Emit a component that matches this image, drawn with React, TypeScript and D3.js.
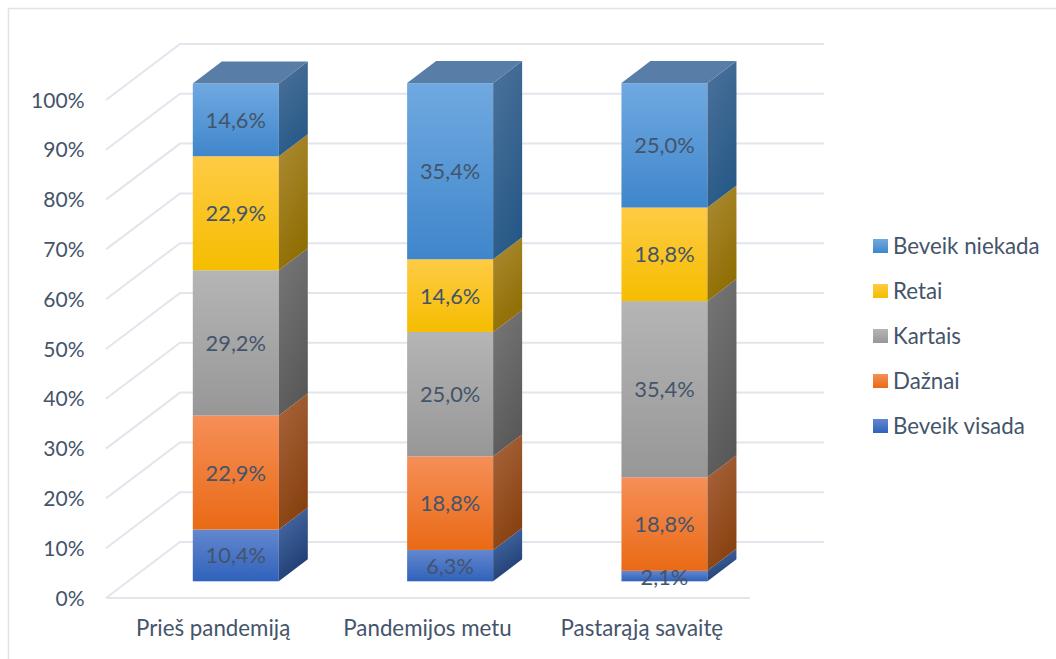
import React, { useMemo } from "react";
import * as d3 from "d3";

const categories = ["Prieš pandemiją", "Pandemijos metu", "Pastarąją savaitę"];
const seriesNames = ["Beveik visada", "Dažnai", "Kartais", "Retai", "Beveik niekada"];
const beveikVisada = [10.4, 6.3, 2.1];
const daznai = [22.9, 18.8, 18.8];
const kartais = [29.2, 25.0, 35.4];
const retai = [22.9, 14.6, 18.8];
const beveikNiekada = [14.6, 35.4, 25.0];
const seriesValues = [beveikVisada, daznai, kartais, retai, beveikNiekada];
const axisTicks = [0, 10, 20, 30, 40, 50, 60, 70, 80, 90, 100];

// front-face top/bottom, side-face top/bottom, lid colour for each series
const palette = [
  { a: "#6487cf", b: "#2f62bb", sa: "#4a6ba6", sb: "#1b3a70", lid: "#4a6ba6" },
  { a: "#f68f58", b: "#e96a15", sa: "#a7623a", sb: "#86400e", lid: "#a7623a" },
  { a: "#b5b5b5", b: "#979797", sa: "#757575", sb: "#585858", lid: "#757575" },
  { a: "#ffcb45", b: "#f5bd00", sa: "#ab8a32", sb: "#8d6c00", lid: "#ab8a32" },
  { a: "#70a9e1", b: "#3f86cb", sa: "#4a7099", sb: "#265887", lid: "#587ea8" },
];

const W = 1056;
const H = 659;
const FONT = "Lato, Carlito, sans-serif";
const TEXT = "#44546a";
const GRID = "#e2e5ec";
const TICK_SIZE = 21;
const VALUE_SIZE = 21.8;
const LABEL_SIZE = 22.3;
const depthX = 74;
const depthY = 56;
const barDepthX = 29;
const barDepthY = 22;

export default function App() {
  const band = useMemo(
    () => d3.scaleBand<number>().domain([0, 1, 2]).range([106, 749]),
    []
  );
  const yFloor = useMemo(() => d3.scaleLinear().domain([0, 100]).range([598, 100]), []);
  const yBar = useMemo(() => d3.scaleLinear().domain([0, 100]).range([581.3, 83.6]), []);
  const barOffset = 86.8;
  const barWidth = 86;

  const stacked = useMemo(() => {
    const rows = categories.map((_, c) => {
      const row: Record<string, number> = {};
      seriesNames.forEach((n, s) => (row[n] = seriesValues[s][c]));
      return row;
    });
    return d3.stack<Record<string, number>>().keys(seriesNames)(rows);
  }, []);

  const poly = d3.line<[number, number]>().curve(d3.curveLinearClosed);
  const x0 = band(0)!;
  const x1 = band.range()[1] + 1;

  return (
    <svg
      width={W}
      height={H}
      viewBox={`0 0 ${W} ${H}`}
      style={{ position: "fixed", left: 0, top: 0, background: "#fff" }}
      fontFamily={FONT}
    >
      <defs>
        {palette.map((p, i) => (
          <React.Fragment key={i}>
            <linearGradient id={`front${i}`} x1="0" y1="0" x2="0" y2="1">
              <stop offset="0" stopColor={p.a} />
              <stop offset="1" stopColor={p.b} />
            </linearGradient>
            <linearGradient id={`side${i}`} x1="0.2" y1="0" x2="0.6" y2="1">
              <stop offset="0" stopColor={p.sa} />
              <stop offset="1" stopColor={p.sb} />
            </linearGradient>
          </React.Fragment>
        ))}
      </defs>

      <path d={`M8.5 659V8.5H1056`} fill="none" stroke="#dfe3ea" strokeWidth={1.5} />

      {axisTicks.map((t) => {
        const y = yFloor(t);
        return (
          <path
            key={t}
            d={`M${x0} ${y}L${x0 + depthX} ${y - depthY}L${x1 + depthX} ${y - depthY}`}
            fill="none"
            stroke={GRID}
            strokeWidth={2}
          />
        );
      })}
      <line x1={x0} x2={x1} y1={yFloor(0)} y2={yFloor(0)} stroke={GRID} strokeWidth={2} />

      {axisTicks.map((t) => (
        <text
          key={t}
          x={84.5}
          y={yFloor(t) + 7.5}
          textAnchor="end"
          fontSize={TICK_SIZE}
          fill={TEXT}
        >
          {t}%
        </text>
      ))}

      {stacked.map((layer, s) =>
        layer.map((d, c) => {
          const left = band(c)! + barOffset;
          const right = left + barWidth;
          const yb = yBar(d[0]);
          const yt = yBar(d[1]);
          return (
            <g key={c}>
              <rect x={left} y={yt} width={barWidth} height={yb - yt} fill={`url(#front${s})`} />
              <path
                d={poly([
                  [right, yb],
                  [right + barDepthX, yb - barDepthY],
                  [right + barDepthX, yt - barDepthY],
                  [right, yt],
                ])!}
                fill={`url(#side${s})`}
              />
              {s === seriesNames.length - 1 && (
                <path
                  d={poly([
                    [left, yt],
                    [left + barDepthX, yt - barDepthY],
                    [right + barDepthX, yt - barDepthY],
                    [right, yt],
                  ])!}
                  fill={palette[s].lid}
                />
              )}
            </g>
          );
        })
      )}

      {stacked.map((layer, s) =>
        layer.map((d, c) => (
          <text
            key={c}
            x={band(c)! + barOffset + barWidth / 2}
            y={s === 0 && c === 2 ? 585 : yBar((d[0] + d[1]) / 2) + 8}
            textAnchor="middle"
            fontSize={VALUE_SIZE}
            fill={TEXT}
          >
            {seriesValues[s][c].toFixed(1).replace(".", ",")}%
          </text>
        ))
      )}

      {categories.map((c, i) => (
        <text
          key={c}
          x={band(i)! + band.bandwidth() / 2}
          y={635.5}
          textAnchor="middle"
          fontSize={LABEL_SIZE}
          fill={TEXT}
        >
          {c}
        </text>
      ))}

      {[...seriesNames].reverse().map((n, i) => {
        const s = seriesNames.length - 1 - i;
        const y = 246 + i * 45;
        return (
          <g key={n}>
            <rect x={873} y={y - 7} width={15} height={14} fill={`url(#front${s})`} />
            <text x={893} y={y + 7.5} fontSize={LABEL_SIZE} fill={TEXT}>
              {n}
            </text>
          </g>
        );
      })}
    </svg>
  );
}
